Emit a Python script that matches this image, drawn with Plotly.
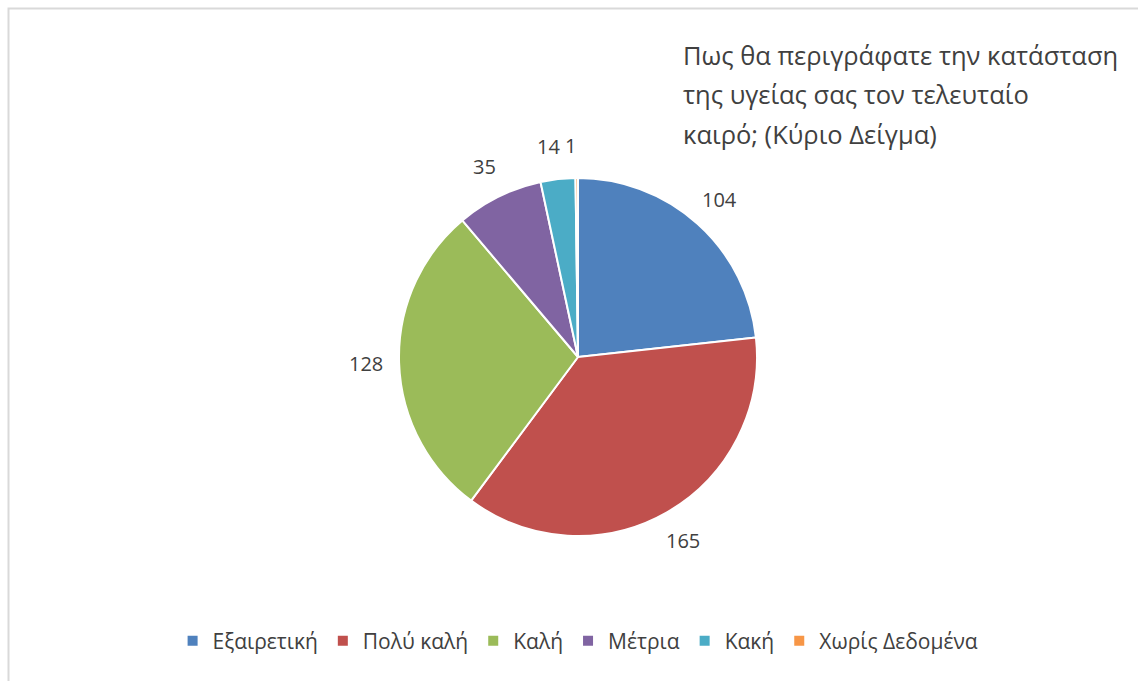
import math
import plotly.graph_objects as go

# Survey answers and counts
categories = ["Εξαιρετική", "Πολύ καλή", "Καλή", "Μέτρια", "Κακή", "Χωρίς Δεδομένα"]
counts = [104, 165, 128, 35, 14, 1]
colors = ["#4F81BD", "#C0504D", "#9BBB59", "#8064A2", "#4BACC6", "#F79646"]
title_lines = ["Πως θα περιγράφατε την κατάσταση", "της υγείας σας τον τελευταίο", "καιρό; (Κύριο Δείγμα)"]

W, H = 1138, 681
FONT = "Open Sans, Noto Sans, DejaVu Sans, sans-serif"
TXT = "#404040"

# pie placement in pixels
cx, cy, r = 578, 357, 179


def px(x):
    return x / W


def py(y):
    return 1 - y / H


fig = go.Figure()
fig.add_trace(go.Pie(
    labels=categories,
    values=counts,
    sort=False,
    direction="clockwise",
    rotation=0,
    marker=dict(colors=colors, line=dict(color="white", width=2)),
    textinfo="none",
    hoverinfo="label+value",
    domain=dict(x=[px(cx - r), px(cx + r)], y=[py(cy + r), py(cy - r)]),
))

# value labels placed just outside each slice
total = sum(counts)
cum = 0
annotations = []
label_r = 212
for i, v in enumerate(counts):
    mid = (cum + v / 2) / total * 2 * math.pi
    cum += v
    lx = cx + label_r * math.sin(mid)
    ly = cy - label_r * math.cos(mid)
    if i >= len(counts) - 2:
        # the two thin slices at the top sit side by side
        lx -= 6
    annotations.append(dict(
        x=px(lx), y=py(ly), xref="paper", yref="paper",
        text=str(v), showarrow=False,
        font=dict(family=FONT, size=20, color=TXT),
        xanchor="center", yanchor="middle",
    ))

for k, line in enumerate(title_lines):
    annotations.append(dict(
        x=px(681), y=py(55 + 39.5 * k), xref="paper", yref="paper",
        text=line, showarrow=False,
        font=dict(family=FONT, size=25.5, color=TXT),
        xanchor="left", yanchor="middle",
    ))

fig.update_layout(
    width=W, height=H,
    margin=dict(l=0, r=0, t=0, b=0),
    paper_bgcolor="white",
    plot_bgcolor="white",
    showlegend=True,
    legend=dict(
        orientation="h",
        x=0.508, xanchor="center",
        y=py(641), yanchor="middle",
        font=dict(family=FONT, size=21, color=TXT),
        itemsizing="constant",
        traceorder="normal",
    ),
    annotations=annotations,
    shapes=[dict(
        type="rect", xref="paper", yref="paper",
        x0=px(8.5), x1=px(W + 10), y0=py(H + 10), y1=py(8.5),
        line=dict(color="#D9D9D9", width=2),
        fillcolor="rgba(0,0,0,0)",
    )],
)

fig.write_html("out.html")
